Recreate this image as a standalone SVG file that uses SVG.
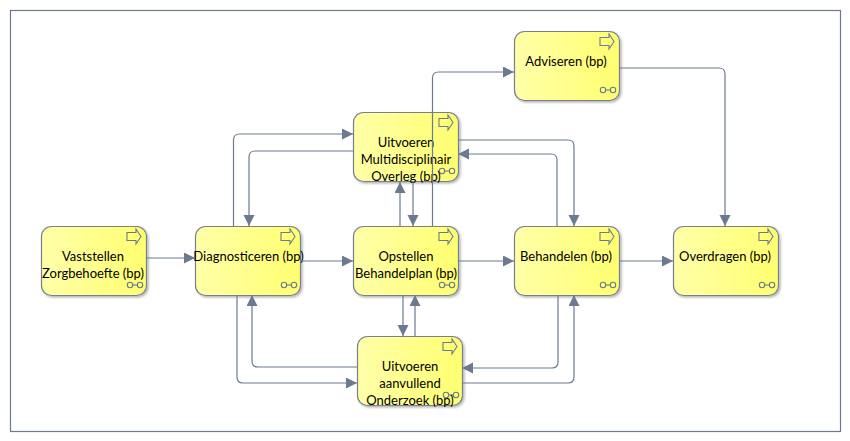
<svg xmlns="http://www.w3.org/2000/svg" width="850" height="441" viewBox="0 0 850 441">
<style>
.c{fill:none;stroke:#6b7a90;stroke-width:1.2}
.b{fill:url(#g);stroke:#76808e;stroke-width:1.2;filter:url(#s)}
.i{fill:none;stroke:#6b7a90;stroke-width:1.1}
text{font-family:Lato,"Open Sans",sans-serif;font-size:13px;fill:#000;text-anchor:middle}
</style>
<defs>
<linearGradient id="g" x1="0" y1="0" x2="1" y2="0"><stop offset="0" stop-color="#ffffa8"/><stop offset="1" stop-color="#ffff70"/></linearGradient>
<filter id="s" x="-5%" y="-5%" width="115%" height="115%"><feDropShadow dx="1.5" dy="1.5" stdDeviation="1" flood-color="#000" flood-opacity="0.3"/></filter>
<marker id="a" markerUnits="userSpaceOnUse" markerWidth="12" markerHeight="12" refX="11" refY="5.500" orient="auto"><path d="M0 0L11 5.500L0 11Z" fill="#6b7a90"/></marker>
<path id="ar" class="i" d="M-19 6.500H-10V3L-5 10.500L-10 18V14.500H-19Z"/>
<g id="ln"><circle class="i" cx="-16" cy="-10" r="2.700"/><circle class="i" cx="-6" cy="-10" r="2.700"/><path class="i" d="M-13.300 -10H-8.700"/></g>
</defs>
<rect x="10.500" y="10.500" width="830" height="421" fill="#fff" stroke="#6b7a90" stroke-width="1.200"/>
<g id="nodes">
<g id="adviseren"><rect class="b" x="514.500" y="31.500" width="105" height="69" rx="10"/><use href="#ar" x="619" y="31"/><use href="#ln" x="619" y="100"/><text x="566" y="66">Adviseren (bp)</text></g>
<g id="mdo"><rect class="b" x="353.500" y="112.500" width="105" height="69" rx="10"/><use href="#ar" x="458" y="112"/><use href="#ln" x="458" y="181"/><text x="406" y="147">Uitvoeren</text><text x="406" y="164">Multidisciplinair</text><text x="406" y="181">Overleg (bp)</text></g>
<g id="vaststellen"><rect class="b" x="41.500" y="226.500" width="105" height="69" rx="10"/><use href="#ar" x="146" y="226"/><use href="#ln" x="146" y="295"/><text x="93" y="261">Vaststellen</text><text x="93" y="278">Zorgbehoefte (bp)</text></g>
<g id="diagnosticeren"><rect class="b" x="195.500" y="226.500" width="105" height="69" rx="10"/><use href="#ar" x="300" y="226"/><use href="#ln" x="300" y="295"/><text x="248.500" y="261">Diagnosticeren (bp)</text></g>
<g id="opstellen"><rect class="b" x="353.500" y="226.500" width="105" height="69" rx="10"/><use href="#ar" x="458" y="226"/><use href="#ln" x="458" y="295"/><text x="406" y="261">Opstellen</text><text x="406" y="278">Behandelplan (bp)</text></g>
<g id="behandelen"><rect class="b" x="514.500" y="226.500" width="105" height="69" rx="10"/><use href="#ar" x="619" y="226"/><use href="#ln" x="619" y="295"/><text x="566" y="261">Behandelen (bp)</text></g>
<g id="overdragen"><rect class="b" x="673.500" y="226.500" width="105" height="69" rx="10"/><use href="#ar" x="778" y="226"/><use href="#ln" x="778" y="295"/><text x="725" y="261">Overdragen (bp)</text></g>
<g id="onderzoek"><rect class="b" x="357.500" y="336.500" width="105" height="69" rx="10"/><use href="#ar" x="462" y="336"/><use href="#ln" x="462" y="405"/><text x="410" y="371">Uitvoeren</text><text x="410" y="388">aanvullend</text><text x="410" y="405">Onderzoek (bp)</text></g>
</g>
<g id="connectors">
<path class="c" marker-end="url(#a)" d="M146 258H195"/>
<path class="c" marker-end="url(#a)" d="M300 261H353"/>
<path class="c" marker-end="url(#a)" d="M458 261H514"/>
<path class="c" marker-end="url(#a)" d="M619 261H673"/>
<path class="c" marker-end="url(#a)" d="M233.500 226V140Q233.500 134 239.500 134H353"/>
<path class="c" marker-end="url(#a)" d="M353 151H255Q249 151 249 157V226"/>
<path class="c" marker-end="url(#a)" d="M400 226V182"/>
<path class="c" marker-end="url(#a)" d="M413 182V226"/>
<path class="c" marker-end="url(#a)" d="M432.500 226V78Q432.500 72 438.500 72H514"/>
<path class="c" marker-end="url(#a)" d="M458 140H568Q574 140 574 146V226"/>
<path class="c" marker-end="url(#a)" d="M557 226V160Q557 154 551 154H458"/>
<path class="c" marker-end="url(#a)" d="M619 68H719Q725 68 725 74V226"/>
<path class="c" marker-end="url(#a)" d="M237 295V377Q237 383 243 383H357"/>
<path class="c" marker-end="url(#a)" d="M357 367H258Q252 367 252 361V295"/>
<path class="c" marker-end="url(#a)" d="M403 295V336"/>
<path class="c" marker-end="url(#a)" d="M415 336V295"/>
<path class="c" marker-end="url(#a)" d="M558 295V362Q558 368 552 368H462"/>
<path class="c" marker-end="url(#a)" d="M462 383H568Q574 383 574 377V295"/>
</g>
</svg>
